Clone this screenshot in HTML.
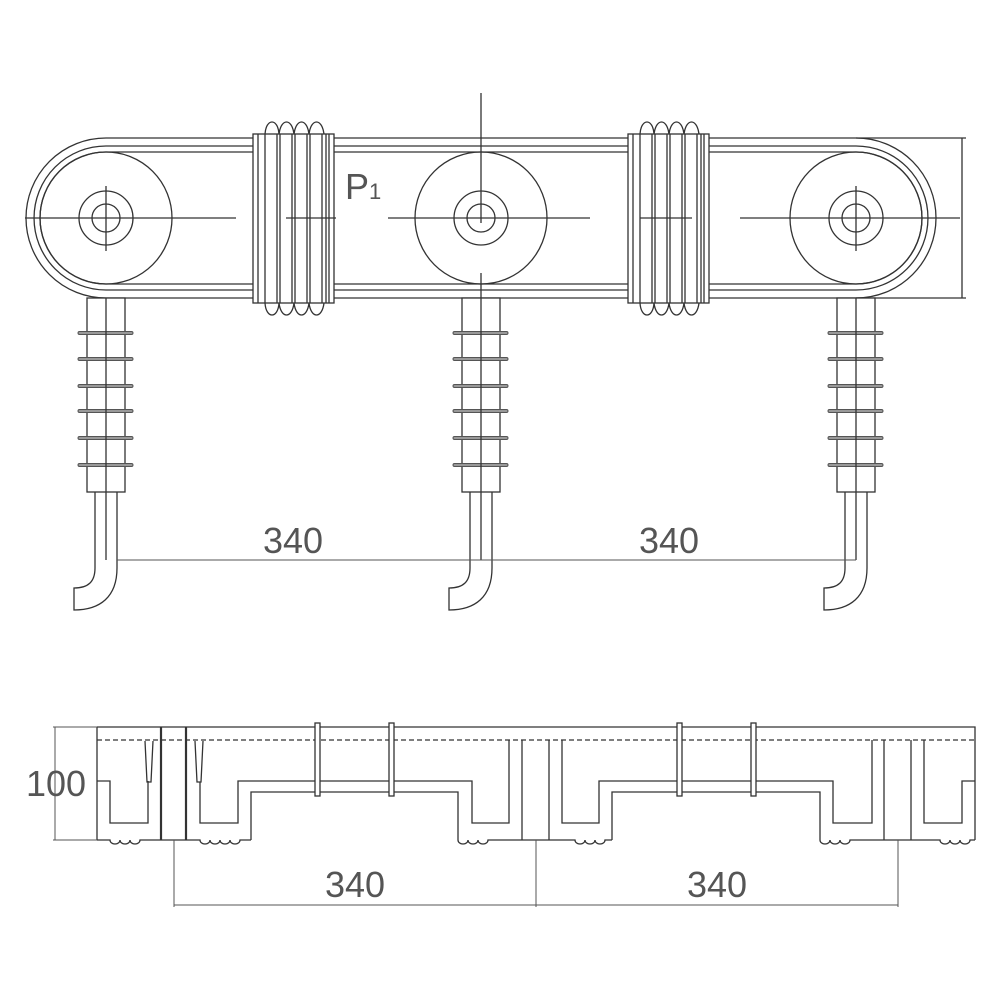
<!DOCTYPE html>
<html><head><meta charset="utf-8"><style>
html,body{margin:0;padding:0;background:#fff;}
svg{display:block;}
text{font-family:"Liberation Sans",sans-serif;fill:#555;}
</style></head><body>
<svg width="1000" height="1000" viewBox="0 0 1000 1000" xmlns="http://www.w3.org/2000/svg">
<defs>
<g id="bellow">
  <rect x="0" y="134" width="81" height="169" fill="#fff" stroke="#333" stroke-width="1.3"/>
  <g stroke="#333" stroke-width="1.3" fill="none">
    <path d="M5,134V303M12,134V303M24,134V303M27,134V303M39,134V303M42,134V303M54,134V303M57,134V303M69,134V303M73,134V303M76,134V303"/>
    <path d="M12,134 C13,118 25,118 26,134 C28,118 39,118 41,134 C43,118 54,118 56,134 C58,118 69,118 71,134"/>
    <path d="M12,303 C13,319 25,319 26,303 C28,319 39,319 41,303 C43,319 54,319 56,303 C58,319 69,319 71,303"/>
  </g>
</g>
<g id="leg">
  <g stroke="#333" stroke-width="1.3" fill="#fff">
    <rect x="87" y="298" width="38" height="194"/>
  </g>
  <g stroke="#555" stroke-width="1" fill="#999">
    <rect x="78" y="331.5" width="55" height="3" rx="1.5"/>
    <rect x="78" y="357.5" width="55" height="3" rx="1.5"/>
    <rect x="78" y="384.5" width="55" height="3" rx="1.5"/>
    <rect x="78" y="409.5" width="55" height="3" rx="1.5"/>
    <rect x="78" y="436.5" width="55" height="3" rx="1.5"/>
    <rect x="78" y="463.5" width="55" height="3" rx="1.5"/>
  </g>
  <g stroke="#333" stroke-width="1.3" fill="none">
    <path d="M106,298V560"/>
    <path d="M95,492V568 C95,582 88,588 74,588 V610 C100,610 117,597 117,568 V492"/>
  </g>
</g>
</defs>

<!-- top view racetrack -->
<g stroke="#333" stroke-width="1.3" fill="none">
  <path d="M106,138H856A80,80 0 0 1 856,298H106A80,80 0 0 1 106,138Z"/>
  <path d="M106,146H856A72,72 0 0 1 856,290H106A72,72 0 0 1 106,146Z"/>
  <path d="M106,152H856A66,66 0 0 1 856,284H106A66,66 0 0 1 106,152Z"/>
  <circle cx="106" cy="218" r="66"/>
  <circle cx="481" cy="218" r="66"/>
  <circle cx="856" cy="218" r="66"/>
  <circle cx="106" cy="218" r="27"/><circle cx="106" cy="218" r="14"/>
  <circle cx="481" cy="218" r="27"/><circle cx="481" cy="218" r="14"/>
  <circle cx="856" cy="218" r="27"/><circle cx="856" cy="218" r="14"/>
  <path d="M106,186V251M856,186V251"/>
  <path d="M25,218H236M388,218H590M740,218H960"/>
  <path d="M481,93V223M481,273V298"/>
  <path d="M856,138H966M856,298H966M962,138V298"/>
</g>
<use href="#bellow" x="253"/>
<use href="#bellow" x="628"/>
<g stroke="#333" stroke-width="1.3"><path d="M286,218H336M640,218H692"/></g>

<use href="#leg"/>
<use href="#leg" x="375"/>
<use href="#leg" x="750"/>
<g stroke="#555" stroke-width="1"><path d="M117,560H856"/></g>

<text x="293" y="553" font-size="36" text-anchor="middle">340</text>
<text x="669" y="553" font-size="36" text-anchor="middle">340</text>
<text x="345" y="199" font-size="36">P</text>
<text x="369" y="199" font-size="22">1</text>

<!-- bottom view -->
<g stroke="#333" stroke-width="1.3" fill="none">
  <path d="M97,727H975V840M97,727V840"/>
  <path d="M97,740H975" stroke-dasharray="5,3"/>
  <path d="M53,727H97M53,840H97M55,727V840" stroke="#555" stroke-width="1"/>
  <!-- left profile -->
  <path d="M97,781H110V823H148V781"/>
  <path d="M145,741L147,782H151L153,741"/>
  <path d="M195,741L197,782H201L203,741"/>
  <path d="M200,782V823H238V781H472V823H509V740"/>
  <path d="M251,840V792H458V840"/>
  <path d="M522,740V840M549,740V840"/>
  <path d="M562,740V823H599V781H833V823H872V740"/>
  <path d="M612,840V792H820V840"/>
  <path d="M884,740V840M911,740V840"/>
  <path d="M924,740V823H962V781H975"/>
  <path d="M161,727V840M186,727V840" stroke-width="2.2"/>
  <!-- base with scallops -->
  <path d="M97,840H110 a5,4 0 0 0 10,0 a5,4 0 0 0 10,0 a5,4 0 0 0 10,0 H200 a5,4 0 0 0 10,0 a5,4 0 0 0 10,0 a5,4 0 0 0 10,0 a5,4 0 0 0 10,0 H251"/>
  <path d="M458,840 a5,4 0 0 0 10,0 a5,4 0 0 0 10,0 a5,4 0 0 0 10,0 H522 H549 H575 a5,4 0 0 0 10,0 a5,4 0 0 0 10,0 a5,4 0 0 0 10,0 H612"/>
  <path d="M820,840 a5,4 0 0 0 10,0 a5,4 0 0 0 10,0 a5,4 0 0 0 10,0 H940 a5,4 0 0 0 10,0 a5,4 0 0 0 10,0 a5,4 0 0 0 10,0 H975"/>
  <!-- clamps -->
  <rect x="315" y="723" width="5" height="73" fill="#fff"/>
  <rect x="389" y="723" width="5" height="73" fill="#fff"/>
  <rect x="677" y="723" width="5" height="73" fill="#fff"/>
  <rect x="751" y="723" width="5" height="73" fill="#fff"/>
  <path d="M174,840V907M536,840V907M898,840V907M174,905H898" stroke="#555" stroke-width="1"/>
</g>
<text x="56" y="796" font-size="36" text-anchor="middle">100</text>
<text x="355" y="897" font-size="36" text-anchor="middle">340</text>
<text x="717" y="897" font-size="36" text-anchor="middle">340</text>
</svg>
</body></html>
